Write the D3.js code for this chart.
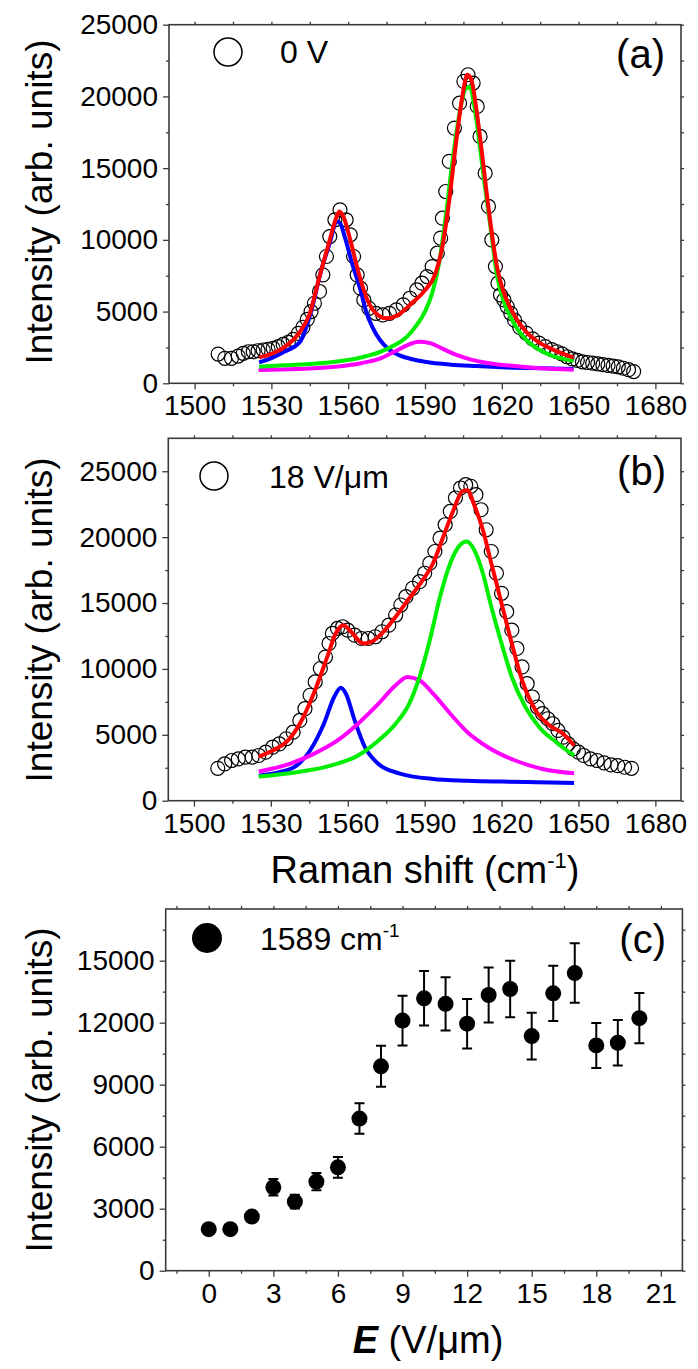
<!DOCTYPE html>
<html>
<head>
<meta charset="utf-8">
<script src="https://cdn.jsdelivr.net/npm/d3@7"></script>
<style>
  body { margin: 0; background: #fff; }
  svg text { font-family: "Liberation Sans", Arial, sans-serif; fill: #000; }
</style>
</head>
<body>
<div id="chart"></div>
<script>
// ---- data: panel (a), 0 V ----
var shiftA = [1509.2,1511.8,1514.4,1517.0,1519.0,1521.0,1522.9,1524.8,1526.8,1528.7,1530.7,1532.7,1534.6,1536.6,1538.5,1540.5,
  1542.3,1544.0,1545.5,1546.8,1548.8,1550.1,1551.5,1552.8,1554.8,1556.8,1559.2,1560.8,1562.1,1563.5,1564.8,1566.1,1568.1,
  1570.8,1573.5,1576.1,1578.8,1581.5,1584.1,1586.8,1588.8,1590.8,1592.8,1594.8,1596.1,1596.8,1598.1,1599.5,1601.5,1603.5,
  1605.2,1606.8,1608.8,1610.4,1611.5,1613.5,1614.8,1616.1,1617.5,1618.5,1619.5,1620.8,1622.1,1623.5,1625.0,1627.0,1629.5,
  1632.0,1634.5,1637.0,1639.5,1641.5,1643.5,1645.5,1647.5,1649.5,1651.5,1653.5,1655.5,1657.5,1659.5,1661.5,1663.5,1665.5,
  1667.5,1669.5,1671.5];
var intA = [2040,1740,1740,1900,2090,2200,2200,2270,2320,2370,2440,2550,2710,2860,3060,3480,
  3900,4450,5000,5580,6400,7560,8840,10230,11400,12090,11400,10350,8840,7560,6630,5810,5230,
  4880,4770,4880,5120,5470,5930,6510,6980,7440,8140,9070,10120,11510,13370,15470,17790,19530,
  21050,21510,20930,19300,17210,14650,12330,10000,8140,6980,6160,5810,5350,4880,4400,3900,3500,
  3100,2800,2550,2350,2200,2050,1850,1700,1600,1500,1450,1400,1350,1300,1250,1200,1150,
  1050,950,820];

var fitRedA = [[1525.2,1810],[1530,2050],[1535,2500],[1541.2,3600],[1544.8,4770],[1548.8,7440],[1552.8,10000],[1555.5,11630],
  [1556.5,11980],[1558.1,11630],[1560.8,10000],[1564.1,7670],[1567.5,5810],[1570.8,4880],[1574.8,4530],[1579.5,4770],
  [1584.8,5580],[1590.1,6510],[1594.1,7670],[1596.8,9530],[1599.5,12790],[1602.1,16740],[1604.8,20230],[1606.5,21510],
  [1608.1,21160],[1610.1,19070],[1612.1,16280],[1614.1,13260],[1616.1,10470],[1618.1,8140],[1620.8,6300],[1623.5,5200],
  [1626,4400],[1630,3500],[1635,2800],[1640,2350],[1644,2050],[1648,1800]];
var fitBlueA = [[1525.2,1460],[1530,1750],[1535,2200],[1541.2,2900],[1545.5,5000],[1549.5,7900],[1552.8,9770],[1555.5,11280],
  [1556.8,11160],[1558.8,10120],[1561.5,8370],[1564.8,6500],[1567,5000],[1569.5,3900],[1572.5,3000],[1576,2350],[1580,1950],
  [1585,1680],[1590,1500],[1600,1300],[1610,1200],[1620,1120],[1635,1050],[1648,1000]];
var fitGreenA = [[1525.2,1160],[1535,1250],[1545,1350],[1555,1500],[1565,1800],[1572,2150],[1578,2650],[1583,3250],[1586.5,4000],
  [1590,5000],[1592.8,6280],[1595.5,8370],[1598.1,11630],[1600.8,15580],[1603.5,18840],[1606.1,20580],[1607.5,20650],
  [1609.5,19070],[1611.5,16400],[1613.5,13600],[1615.5,11000],[1618.1,7540],[1620.8,5700],[1623.5,4600],[1626,3800],
  [1630,2950],[1635,2300],[1640,1900],[1644,1700],[1648,1550]];
var fitMagentaA = [[1525,930],[1540,1000],[1555,1150],[1565,1400],[1572,1700],[1578,2200],[1583,2650],[1587.5,2900],
  [1592,2800],[1597,2400],[1602,2000],[1608,1650],[1615,1400],[1625,1200],[1635,1050],[1648,950]];

// ---- data: panel (b), 18 V/um ----
var shiftB = [1509.3,1512,1514.7,1517.3,1520,1522.7,1525.3,1528,1530.7,1533.3,1536,1538.7,1541.3,1543.3,1545.3,1547.3,1549.3,
  1551.3,1552.7,1554,1556,1558,1560,1562.7,1565.3,1568,1570.7,1573.3,1576,1578.7,1580.7,1582.7,1585.3,1588,1590,1592,1594,
  1596,1598,1600,1602,1604,1606,1608,1610,1612,1614,1616,1618,1620,1622,1624,1626,1628,1630,1632,1634,1636,1638,1640,1642,
  1644,1646,1648,1650,1652,1654.7,1657.3,1660,1662.7,1665.3,1668,1670.7];
var intB = [2460,2790,3050,3170,3300,3300,3430,3680,4060,4310,4700,5200,6090,6980,8000,9010,10030,
  10900,11930,12690,13070,13200,12940,12560,12310,12310,12440,12820,13320,14090,14850,15480,16120,16620,17260,18020,18910,
  19920,20940,21950,22970,23730,23980,23860,23220,22080,20560,18910,17260,15740,14340,12940,11550,10150,8880,7870,7110,6600,6220,5840,5330,
  4820,4310,3930,3680,3430,3170,3050,2870,2720,2660,2540,2460];

var fitRedB = [[1525.3,3350],[1530.7,3810],[1536,4440],[1541.3,5840],[1546.7,8120],[1552,10910],[1555.3,12690],[1558.3,13320],
  [1561.3,12820],[1566,11930],[1569.3,12060],[1573.3,12690],[1578.7,13960],[1584,15360],[1589.3,16750],[1593.3,18020],
  [1597.3,20050],[1601.3,22080],[1604.7,23480],[1606.7,23550],[1609.3,22460],[1612.7,20560],[1616,18020],[1620,14970],
  [1624,11930],[1628,9140],[1633.3,6850],[1638.7,5710],[1644,5080],[1648.3,4190]];
var fitBlueB = [[1525.3,1900],[1533.3,2160],[1540,2660],[1545.3,3810],[1550.7,5840],[1554.7,7870],[1557.3,8580],[1559.3,8120],
  [1562.7,6090],[1566.7,4060],[1572,2790],[1580,2080],[1593.3,1650],[1606.7,1520],[1620,1450],[1633.3,1400],[1648.3,1350]];
var fitMagentaB = [[1525.3,2210],[1537.3,2790],[1546.7,3550],[1556,4570],[1564,5840],[1572,7360],[1578.7,8760],[1583.3,9390],
  [1588,9140],[1593.3,8120],[1600,6600],[1606.7,5200],[1614.7,4060],[1625.3,3050],[1636,2410],[1648.3,2080]];
var fitGreenB = [[1525.3,1830],[1540,2160],[1553.3,2660],[1564,3430],[1572,4570],[1578.7,5840],[1584,7360],[1588,9390],
  [1592,12180],[1596,15480],[1600,18020],[1603.3,19290],[1606.4,19670],[1609.3,19040],[1612.7,17260],[1616,14720],
  [1620,11930],[1624,9390],[1629.3,7110],[1634.7,5580],[1641.3,4440],[1648.3,3430]];

// ---- data: panel (c), 1589 cm-1 band intensity vs field ----
var fieldC = [0,1,2,3,4,5,6,7,8,9,10,11,12,13,14,15,16,17,18,19,20];
var intC = [2010,2010,2620,4035,3340,4310,5000,7360,9890,12100,13180,12910,11950,13340,13630,11350,13420,14400,10900,11030,12220];
var errC = [150,150,200,400,330,420,500,740,990,1200,1320,1290,1200,1330,1370,1130,1340,1440,1090,1100,1220];

var ticksRaman = [1500,1530,1560,1590,1620,1650,1680];
var minorRaman = [1515,1545,1575,1605,1635,1665];
var ticksIntAB = [0,5000,10000,15000,20000,25000];
var minorIntAB = [2500,7500,12500,17500,22500];
var ticksField = [0,3,6,9,12,15,18,21];
var minorField = [-1.5,1.5,4.5,7.5,10.5,13.5,16.5,19.5];
var ticksIntC = [0,3000,6000,9000,12000,15000];
var minorIntC = [1500,4500,7500,10500,13500,16500];

var svg = d3.select("#chart").append("svg")
    .attr("width", 698)
    .attr("height", 1369);

var frameColor = "#3a3a3a";

// frame + ticks on all four sides
function drawFrame(x, y, xt, xm, yt, ym) {
    var x0 = x.range()[0], x1 = x.range()[1];
    var y0 = y.range()[0], y1 = y.range()[1];
    var g = svg.append("g");

    g.append("g")
        .attr("transform", "translate(0," + y0 + ")")
        .call(d3.axisBottom(x).tickValues(xt).tickSize(6).tickPadding(6).tickFormat(d3.format("d")))
        .call(s => s.selectAll("text").attr("font-size", "28px").attr("font-family", null))
        .call(s => s.select(".domain").remove());
    g.append("g")
        .attr("transform", "translate(0," + y0 + ")")
        .call(d3.axisBottom(x).tickValues(xm).tickSize(3).tickFormat(""))
        .call(s => s.select(".domain").remove());
    g.append("g")
        .attr("transform", "translate(" + x0 + ",0)")
        .call(d3.axisLeft(y).tickValues(yt).tickSize(6).tickPadding(5).tickFormat(d3.format("d")))
        .call(s => s.selectAll("text").attr("font-size", "28px").attr("font-family", null))
        .call(s => s.select(".domain").remove());
    g.append("g")
        .attr("transform", "translate(" + x0 + ",0)")
        .call(d3.axisLeft(y).tickValues(ym).tickSize(3).tickFormat(""))
        .call(s => s.select(".domain").remove());
    // mirror ticks, top and right
    g.append("g")
        .attr("transform", "translate(0," + y1 + ")")
        .call(d3.axisTop(x).tickValues(xt.concat(xm)).tickSize(3).tickFormat(""))
        .call(s => s.select(".domain").remove());
    g.append("g")
        .attr("transform", "translate(" + x1 + ",0)")
        .call(d3.axisRight(y).tickValues(yt.concat(ym).filter(v => v <= y.domain()[1])).tickSize(3).tickFormat(""))
        .call(s => s.select(".domain").remove());

    g.selectAll(".tick line").attr("stroke", frameColor).attr("stroke-width", 1.3);

    g.append("rect")
        .attr("x", x0).attr("y", y1)
        .attr("width", x1 - x0).attr("height", y0 - y1)
        .attr("fill", "none")
        .attr("stroke", frameColor)
        .attr("stroke-width", 1.6);
}

function yTitle(cy) {
    svg.append("text")
        .attr("transform", "translate(52," + cy + ") rotate(-90)")
        .attr("text-anchor", "middle")
        .attr("font-size", "37px")
        .text("Intensity (arb. units)");
}

function panelTag(xr, yb, s) {
    svg.append("text")
        .attr("x", xr).attr("y", yb)
        .attr("text-anchor", "end")
        .attr("font-size", "40px")
        .text(s);
}

function spectrumPanel(xs, ys, shift, inten, fits) {
    var pts = shift.map((s, i) => [s, inten[i]]);
    var g = svg.append("g");
    g.selectAll("circle")
        .data(pts)
        .enter().append("circle")
        .attr("cx", d => xs(d[0]))
        .attr("cy", d => ys(d[1]))
        .attr("r", 7)
        .attr("fill", "none")
        .attr("stroke", "#000")
        .attr("stroke-width", 1.2);

    var line = d3.line()
        .x(d => xs(d[0]))
        .y(d => ys(d[1]))
        .curve(d3.curveMonotoneX);

    fits.forEach(function(f) {
        g.append("path")
            .datum(f.data)
            .attr("fill", "none")
            .attr("stroke", f.color)
            .attr("stroke-width", 4)
            .attr("stroke-linejoin", "round")
            .attr("d", line);
    });
}

// ---------- panel (a) ----------
var xA = d3.scaleLinear().domain([1490, 1690]).range([169, 681]);
var yA = d3.scaleLinear().domain([0, 25000]).range([383.3, 24.7]);
drawFrame(xA, yA, ticksRaman, minorRaman, ticksIntAB, minorIntAB);
spectrumPanel(xA, yA, shiftA, intA, [
    {data: fitBlueA, color: "#0000ff"},
    {data: fitMagentaA, color: "#ff00ff"},
    {data: fitGreenA, color: "#00ee00"},
    {data: fitRedA, color: "#ff0000"}
]);
yTitle(202);
panelTag(665, 68, "(a)");
svg.append("circle").attr("cx", 228).attr("cy", 52).attr("r", 14)
    .attr("fill", "none").attr("stroke", "#000").attr("stroke-width", 1.5);
svg.append("text").attr("x", 280).attr("y", 63).attr("font-size", "32px").text("0 V");

// ---------- panel (b) ----------
var xB = d3.scaleLinear().domain([1490, 1690]).range([168.3, 681]);
var yB = d3.scaleLinear().domain([0, 27500]).range([800.7, 438.3]);
drawFrame(xB, yB, ticksRaman, minorRaman, ticksIntAB, minorIntAB);
spectrumPanel(xB, yB, shiftB, intB, [
    {data: fitBlueB, color: "#0000ff"},
    {data: fitMagentaB, color: "#ff00ff"},
    {data: fitGreenB, color: "#00ee00"},
    {data: fitRedB, color: "#ff0000"}
]);
yTitle(620);
panelTag(666, 485, "(b)");
svg.append("circle").attr("cx", 214).attr("cy", 476).attr("r", 14)
    .attr("fill", "none").attr("stroke", "#000").attr("stroke-width", 1.5);
svg.append("text").attr("x", 269).attr("y", 488).attr("font-size", "32px").text("18 V/μm");

var rTitle = svg.append("text")
    .attr("x", 425).attr("y", 883)
    .attr("text-anchor", "middle")
    .attr("font-size", "38px");
rTitle.append("tspan").text("Raman shift (cm");
rTitle.append("tspan").attr("font-size", "22px").attr("dy", "-15").text("-1");
rTitle.append("tspan").attr("dy", "15").text(")");

// ---------- panel (c) ----------
var xC = d3.scaleLinear().domain([-2, 22]).range([165.7, 682.4]);
var yC = d3.scaleLinear().domain([0, 17500]).range([1270.7, 909]);
drawFrame(xC, yC, ticksField, minorField, ticksIntC, minorIntC);

var pc = fieldC.map((e, i) => ({e: e, v: intC[i], err: errC[i]}));
var gc = svg.append("g");
gc.selectAll(".err")
    .data(pc)
    .enter().append("path")
    .attr("class", "err")
    .attr("fill", "none")
    .attr("stroke", "#000")
    .attr("stroke-width", 2)
    .attr("d", function(d) {
        var cx = xC(d.e), top = yC(d.v + d.err), bot = yC(d.v - d.err);
        return "M" + (cx - 5) + "," + top + "H" + (cx + 5) +
               "M" + cx + "," + top + "V" + bot +
               "M" + (cx - 5) + "," + bot + "H" + (cx + 5);
    });
gc.selectAll(".pt")
    .data(pc)
    .enter().append("circle")
    .attr("class", "pt")
    .attr("cx", d => xC(d.e))
    .attr("cy", d => yC(d.v))
    .attr("r", 8)
    .attr("fill", "#000");

yTitle(1090);
panelTag(666, 953, "(c)");
svg.append("circle").attr("cx", 207).attr("cy", 938).attr("r", 15).attr("fill", "#000");
var lc = svg.append("text").attr("x", 260).attr("y", 950).attr("font-size", "32px");
lc.append("tspan").text("1589 cm");
lc.append("tspan").attr("font-size", "19px").attr("dy", "-13").text("-1");

var eTitle = svg.append("text")
    .attr("x", 428).attr("y", 1353)
    .attr("text-anchor", "middle")
    .attr("font-size", "38px");
eTitle.append("tspan").attr("font-weight", "bold").attr("font-style", "italic").text("E");
eTitle.append("tspan").text(" (V/μm)");
</script>
</body>
</html>
